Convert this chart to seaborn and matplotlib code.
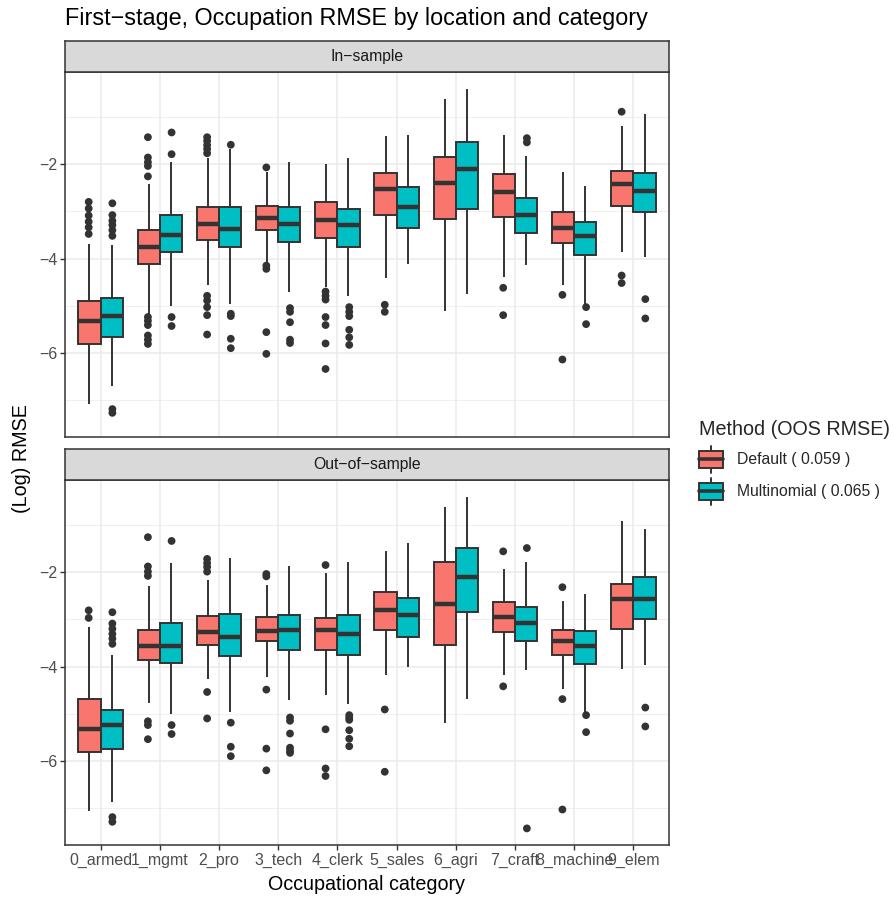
import numpy as np
import pandas as pd
import matplotlib
matplotlib.use("Agg")
import matplotlib.pyplot as plt
import seaborn as sns
from matplotlib.patches import Patch, Rectangle
from matplotlib.lines import Line2D
from matplotlib.legend_handler import HandlerBase
from matplotlib.ticker import FixedLocator

# ---------------- data ----------------
categories = ["0_armed", "1_mgmt", "2_pro", "3_tech", "4_clerk",
              "5_sales", "6_agri", "7_craft", "8_machine", "9_elem"]
methods = ["Default ( 0.059 )", "Multinomial ( 0.065 )"]
panels = ["In\u2212sample", "Out\u2212of\u2212sample"]
colors = ["#F8766D", "#00BFC4"]

# (lower whisker, Q1, median, Q3, upper whisker)
in_default_stats = [
    (-7.08, -5.81, -5.33, -4.89, -3.69),
    (-5.21, -4.12, -3.75, -3.40, -2.42),
    (-4.57, -3.60, -3.27, -2.90, -1.88),
    (-4.08, -3.39, -3.15, -2.88, -2.16),
    (-4.61, -3.57, -3.19, -2.81, -1.99),
    (-4.42, -3.08, -2.53, -2.19, -1.41),
    (-5.12, -3.16, -2.41, -1.85, -0.62),
    (-4.40, -3.13, -2.60, -2.21, -1.39),
    (-4.57, -3.67, -3.35, -3.02, -2.16),
    (-3.86, -2.88, -2.42, -2.14, -1.20),
]
in_multi_stats = [
    (-6.71, -5.67, -5.22, -4.83, -3.71),
    (-5.01, -3.87, -3.50, -3.07, -1.96),
    (-4.96, -3.76, -3.38, -2.90, -1.68),
    (-4.70, -3.64, -3.27, -2.90, -1.96),
    (-4.79, -3.75, -3.28, -2.95, -1.86),
    (-4.12, -3.35, -2.90, -2.49, -1.38),
    (-4.75, -2.95, -2.11, -1.54, -0.40),
    (-4.14, -3.45, -3.07, -2.72, -1.82),
    (-4.96, -3.92, -3.53, -3.23, -2.46),
    (-3.96, -3.02, -2.58, -2.18, -0.93),
]
out_default_stats = [
    (-7.07, -5.81, -5.33, -4.68, -3.16),
    (-4.77, -3.87, -3.57, -3.23, -2.30),
    (-4.26, -3.55, -3.27, -2.93, -2.16),
    (-4.22, -3.47, -3.25, -2.95, -2.28),
    (-4.60, -3.66, -3.23, -2.97, -2.01),
    (-4.17, -3.23, -2.81, -2.42, -1.56),
    (-5.19, -3.54, -2.67, -1.79, -0.62),
    (-4.17, -3.26, -2.95, -2.63, -1.94),
    (-4.47, -3.75, -3.45, -3.23, -2.62),
    (-4.06, -3.21, -2.58, -2.25, -0.91),
]
out_multi_stats = [
    (-6.88, -5.74, -5.23, -4.93, -3.75),
    (-5.01, -3.92, -3.57, -3.07, -1.80),
    (-4.96, -3.78, -3.38, -2.88, -1.70),
    (-4.70, -3.66, -3.23, -2.90, -1.87),
    (-4.79, -3.76, -3.31, -2.90, -1.79),
    (-4.01, -3.38, -2.90, -2.54, -1.39),
    (-4.68, -2.85, -2.11, -1.49, -0.40),
    (-4.08, -3.47, -3.07, -2.74, -1.79),
    (-4.96, -3.95, -3.57, -3.25, -2.46),
    (-3.97, -2.99, -2.58, -2.11, -1.08),
]

# outlying points per category
in_default_out = [
    [-2.80, -2.94, -3.09, -3.22, -3.34, -3.48],
    [-1.43, -1.86, -1.96, -2.04, -2.26, -5.24, -5.32, -5.41, -5.63, -5.72, -5.81],
    [-1.43, -1.51, -1.60, -1.68, -1.77, -4.79, -4.89, -5.03, -5.20, -5.61],
    [-2.07, -4.15, -4.22, -5.56, -6.02],
    [-4.70, -4.79, -4.87, -5.24, -5.41, -5.80, -6.34],
    [-4.98, -5.13],
    [],
    [-4.62, -5.20],
    [-4.77, -6.14],
    [-0.89, -4.36, -4.52],
]
in_multi_out = [
    [-2.83, -3.08, -3.20, -3.29, -3.40, -3.52, -7.19, -7.27],
    [-1.33, -1.79, -5.24, -5.43],
    [-1.59, -5.17, -5.22, -5.70, -5.90],
    [-5.05, -5.13, -5.35, -5.72, -5.79],
    [-5.03, -5.13, -5.22, -5.51, -5.67, -5.83],
    [],
    [],
    [-1.45, -1.54],
    [-5.03, -5.39],
    [-4.86, -5.27],
]
out_default_out = [
    [-2.81, -2.97],
    [-1.26, -1.88, -1.99, -2.08, -5.16, -5.24, -5.54],
    [-1.72, -1.81, -1.89, -1.99, -4.54, -5.10],
    [-2.04, -2.09, -4.49, -5.74, -6.20],
    [-1.85, -5.33, -6.16, -6.32],
    [-4.91, -6.23],
    [],
    [-1.56, -4.42],
    [-2.32, -4.69, -7.03],
    [],
]
out_multi_out = [
    [-2.85, -3.09, -3.20, -3.31, -3.41, -3.52, -7.19, -7.29],
    [-1.34, -5.24, -5.43],
    [-5.19, -5.70, -5.90],
    [-5.08, -5.15, -5.42, -5.72, -5.79, -5.83],
    [-5.03, -5.08, -5.13, -5.35, -5.53, -5.69],
    [],
    [],
    [-1.49, -7.43],
    [-5.03, -5.39],
    [-4.87, -5.27],
]

y_ticks = [-6, -4, -2]
y_minor = [-7, -5, -3, -1]

# ---------------- build long tables ----------------
def box_frame(stats_by_method):
    rows = []
    for m, stats in zip(methods, stats_by_method):
        for c, s in zip(categories, stats):
            for v in s:
                rows.append((c, m, v))
    return pd.DataFrame(rows, columns=["cat", "method", "val"])

def out_frame(out_by_method):
    rows = []
    for m, outs in zip(methods, out_by_method):
        for c, o in zip(categories, outs):
            for v in o:
                rows.append((c, m, v))
    return pd.DataFrame(rows, columns=["cat", "method", "val"])

box_tables = [box_frame([in_default_stats, in_multi_stats]),
              box_frame([out_default_stats, out_multi_stats])]
out_tables = [out_frame([in_default_out, in_multi_out]),
              out_frame([out_default_out, out_multi_out])]

# ---------------- figure ----------------
sns.set_theme(style="white")
plt.rcParams["font.family"] = ["Liberation Sans", "DejaVu Sans"]

W, H = 894, 897
fig = plt.figure(figsize=(W / 100, H / 100), dpi=100)

def fx(px):
    return px / W

def fy(py):
    return 1 - py / H

left_px, right_px = 65, 669
panel_px = [(72, 437), (480, 845)]
strip_px = [(41, 72), (449, 480)]
edge = "#333333"

all_vals = np.concatenate([t["val"].values for t in box_tables + out_tables])
lo, hi = all_vals.min(), all_vals.max()
pad = (hi - lo) * 0.05

axes = []
for i in range(2):
    top, bot = panel_px[i]
    ax = fig.add_axes([fx(left_px), fy(bot), fx(right_px - left_px), (bot - top) / H])
    axes.append(ax)
    sns.boxplot(data=box_tables[i], x="cat", y="val", hue="method",
                order=categories, hue_order=methods, palette=colors,
                saturation=1, width=0.75, gap=0, whis=(0, 100),
                showfliers=False, showcaps=False, linecolor=edge,
                linewidth=1.4, medianprops=dict(linewidth=3.2, color=edge),
                legend=False, ax=ax, zorder=3)
    sns.stripplot(data=out_tables[i], x="cat", y="val", hue="method",
                  order=categories, hue_order=methods, dodge=True, jitter=False,
                  palette=[edge, edge], size=5.6, linewidth=0, legend=False,
                  ax=ax, zorder=4)
    ax.set_ylim(lo - pad, hi + pad)
    ax.set_xlim(-0.6, len(categories) - 0.4)
    ax.yaxis.set_major_locator(FixedLocator(y_ticks))
    ax.yaxis.set_minor_locator(FixedLocator(y_minor))
    ax.grid(which="major", color="#EBEBEB", linewidth=1.1)
    ax.grid(which="minor", axis="y", color="#EBEBEB", linewidth=0.55)
    ax.set_axisbelow(True)
    for sp in ax.spines.values():
        sp.set_color(edge)
        sp.set_linewidth(1.1)
        sp.set_visible(True)
    ax.tick_params(axis="both", which="major", length=3.5, width=1.0,
                   color=edge, labelcolor="#4D4D4D", labelsize=11.5,
                   left=True, bottom=(i == 1), labelbottom=(i == 1), pad=2)
    ax.tick_params(axis="y", which="minor", length=0)
    ax.set_xlabel("")
    ax.set_ylabel("")

    # facet strip
    st, sb = strip_px[i]
    sax = fig.add_axes([fx(left_px), fy(sb), fx(right_px - left_px), (sb - st) / H])
    sax.set_facecolor("#D9D9D9")
    sax.set_xticks([])
    sax.set_yticks([])
    for sp in sax.spines.values():
        sp.set_color(edge)
        sp.set_linewidth(1.1)
        sp.set_visible(True)
    sax.text(0.5, 0.5, panels[i], ha="center", va="center",
             fontsize=11.3, color="#1A1A1A", transform=sax.transAxes)

# titles
fig.text(fx(65), fy(18), "First\u2212stage, Occupation RMSE by location and category",
         ha="left", va="center", fontsize=16.8, color="black")
fig.text(fx((left_px + right_px) / 2), fy(884), "Occupational category",
         ha="center", va="center", fontsize=14.2, color="black")
fig.text(fx(22), fy(459), "(Log) RMSE", ha="center", va="center",
         rotation=90, fontsize=14.2, color="black")

# legend with boxplot-like keys
class BoxKey(HandlerBase):
    def create_artists(self, legend, orig_handle, xdescent, ydescent,
                       width, height, fontsize, trans):
        x0, y0 = -xdescent, -ydescent
        fc = orig_handle.get_facecolor()
        cx = x0 + width / 2
        b0 = y0 + height * 0.185
        b1 = y0 + height * 0.815
        arts = [
            Line2D([cx, cx], [y0, b0], color=edge, lw=1.4, transform=trans),
            Line2D([cx, cx], [b1, y0 + height], color=edge, lw=1.4, transform=trans),
            Rectangle((x0, b0), width, b1 - b0, facecolor=fc, edgecolor=edge,
                      lw=1.4, transform=trans),
            Line2D([x0, x0 + width], [(b0 + b1) / 2] * 2, color=edge, lw=2.6,
                   transform=trans),
        ]
        return arts

handles = [Patch(facecolor=c) for c in colors]
leg = fig.legend(handles, methods, loc="upper left",
                 bbox_to_anchor=(fx(693), fy(413.5)), frameon=False,
                 title="Method (OOS RMSE)", title_fontsize=14.2, fontsize=11.3,
                 handler_map={Patch: BoxKey()}, handlelength=1.5,
                 handleheight=2.27, labelspacing=0.32, handletextpad=0.9,
                 borderaxespad=0)
leg._legend_box.align = "left"
# small extra gap between the legend title and its entries
leg._legend_box.sep = leg._legend_box.sep + 1.5

fig.savefig("out.png", dpi=100)
